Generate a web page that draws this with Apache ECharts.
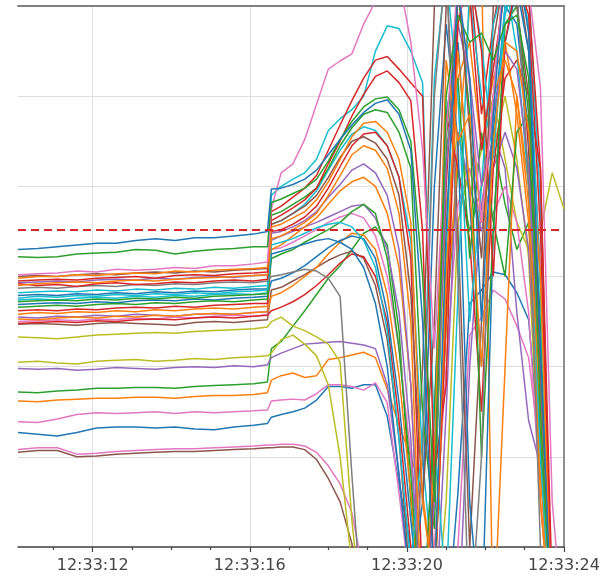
<!DOCTYPE html>
<html><head><meta charset="utf-8">
<script src="https://cdn.jsdelivr.net/npm/echarts@6/dist/echarts.min.js"></script>
<style>html,body{margin:0;padding:0;background:#fff}#c{width:613px;height:578px}</style>
</head><body><div id="c"></div>
<script>
// seconds after 12:33:00
const times = [10.1,10.6,11.1,11.6,12.1,12.6,13.1,13.6,14.1,14.6,15.1,15.6,16.1,16.45,
  16.55,16.8,17.1,17.4,17.7,18.0,18.3,18.6,18.9,19.2,19.5,19.8,20.1,20.4,20.7,21.0,21.3,21.6,21.9,22.2,22.5,22.8,23.1,23.4,23.7,24.0];
const xTickLabels = [12,16,20,24];
const minorTicks = [11,13,14,15,17,18,19,21,22,23];
const threshold = 3.52;

const U1 = [3.30,3.31,3.33,3.35,3.37,3.37,3.40,3.42,3.40,3.43,3.43,3.45,3.47,3.50,
  3.97,3.98,4.02,4.08,4.18,4.35,4.52,4.68,4.82,4.92,4.96,4.80,4.40,2.50,-0.5,3.50,6.20,5.20,2.50,4.80,6.40,6.50,5.70,2.20,-1,-1];
const U2 = [3.22,3.21,3.22,3.25,3.26,3.27,3.30,3.29,3.25,3.28,3.30,3.31,3.33,3.33,
  3.82,3.86,3.92,3.98,4.08,4.28,4.52,4.72,4.88,4.97,4.99,4.85,4.50,3.00,0.50,5.00,5.90,5.60,5.70,5.40,5.80,5.90,5.20,1.50,-1,-1];
const C1 = [3.02,3.03,3.04,3.06,3.05,3.08,3.07,3.08,3.10,3.09,3.12,3.12,3.14,3.16,
  3.75,4.15,4.25,4.52,4.91,5.30,5.39,5.47,5.80,6.05,6.50,6.30,5.60,4.40,2.20,4.60,6.30,5.10,3.60,5.00,6.50,6.50,6.20,5.10,0.50,-1];
const C2 = [2.98,3.00,3.00,3.02,3.01,3.03,3.04,3.03,3.06,3.05,3.07,3.08,3.09,3.10,
  3.55,3.58,3.65,3.72,3.85,4.05,4.30,4.55,4.70,4.72,4.60,4.30,3.60,0.50,-0.5,3.00,5.50,4.00,2.00,4.50,5.60,5.50,4.60,3.00,-1,-1];
const C3 = [2.95,2.96,2.97,2.96,2.98,2.99,3.00,2.98,3.01,3.02,3.01,3.03,3.04,3.05,
  3.72,3.78,3.88,3.98,4.12,4.40,4.68,4.95,5.20,5.40,5.44,5.30,5.15,5.00,0.80,1.80,6.20,6.10,4.40,5.30,6.20,6.50,6.10,4.20,-0.5,-1];
const C4 = [2.90,2.92,2.93,2.94,2.93,2.95,2.96,2.95,2.97,2.98,2.99,3.00,3.01,3.02,
  3.42,3.45,3.52,3.60,3.70,3.90,4.12,4.35,4.45,4.40,4.20,3.70,2.50,-1,1.00,5.40,4.50,4.80,3.60,5.00,5.40,5.00,3.80,1.50,-1,-1];
const C5 = [2.92,2.90,2.91,2.89,2.92,2.93,2.91,2.92,2.94,2.93,2.95,2.96,2.95,2.97,
  3.62,3.68,3.76,3.85,3.98,4.25,4.50,4.78,5.02,5.22,5.28,5.15,4.95,3.50,-0.5,2.60,5.80,6.40,5.50,3.00,5.60,6.30,5.90,3.50,-1,-1];
const C6 = [2.87,2.88,2.87,2.89,2.90,2.89,2.91,2.90,2.92,2.91,2.93,2.94,2.93,2.95,
  3.00,3.02,3.05,3.08,3.06,2.98,2.78,0.80,-1,-1,-1,-1,-1,1.00,5.00,6.50,3.00,-1,1.00,5.00,6.50,6.20,4.00,0.00,-1,-1];
const C7 = [3.00,3.01,3.00,3.02,3.03,3.02,3.04,3.05,3.04,3.06,3.05,3.07,3.08,3.09,
  3.58,3.62,3.70,3.78,3.90,4.10,4.32,4.50,4.55,4.48,4.30,3.90,2.80,0.50,2.50,6.00,6.30,4.60,3.20,5.60,6.40,6.00,5.00,2.00,-1,-1];
const C8 = [2.93,2.94,2.95,2.94,2.96,2.97,2.96,2.98,2.97,2.99,3.00,2.99,3.01,3.02,
  3.48,3.50,3.55,3.62,3.72,3.88,4.02,4.18,4.25,4.15,3.90,3.30,1.80,-1,0.50,4.20,5.80,5.20,4.00,4.80,5.50,5.30,4.20,1.80,-1,-1];
const G1 = [2.82,2.83,2.84,2.83,2.85,2.84,2.86,2.85,2.87,2.86,2.88,2.87,2.89,2.90,
  3.90,4.00,4.08,4.15,4.30,4.62,4.75,4.85,5.00,5.50,5.78,5.75,5.50,5.15,1.20,-0.5,2.80,6.30,5.60,4.30,5.90,6.40,5.80,2.80,-1,-1];
const G2 = [2.76,2.78,2.77,2.79,2.78,2.80,2.79,2.81,2.80,2.82,2.81,2.83,2.84,2.85,
  3.35,3.38,3.42,3.48,3.54,3.58,3.60,3.55,3.40,3.10,2.40,1.20,-0.2,1.20,5.20,6.40,5.00,2.50,4.00,5.80,6.30,5.50,4.00,1.00,-1,-1];
const G3 = [2.72,2.73,2.74,2.73,2.75,2.74,2.76,2.75,2.77,2.76,2.78,2.79,2.80,2.81,
  3.68,3.72,3.80,3.88,3.98,4.20,4.45,4.65,4.80,4.85,4.82,4.60,4.20,1.50,0.20,4.50,6.20,4.80,1.00,3.50,5.80,6.00,4.80,1.20,-1,-1];
const G4 = [2.79,2.80,2.79,2.81,2.80,2.82,2.81,2.83,2.82,2.84,2.83,2.85,2.86,2.86,
  3.25,3.28,3.32,3.36,3.40,3.42,3.38,3.30,3.10,2.70,2.00,0.80,-0.5,0.50,4.00,5.80,4.50,0.50,-1,3.50,5.60,6.20,5.50,2.00,-1,-1];
const G5 = [2.66,2.67,2.68,2.67,2.69,2.70,2.69,2.71,2.70,2.72,2.73,2.72,2.74,2.75,
  3.20,3.25,3.30,3.38,3.45,3.52,3.60,3.72,3.80,3.70,3.20,2.20,0.80,-1,1.50,4.40,5.20,3.20,4.60,3.60,3.00,4.60,4.80,2.50,-1,-1];
const G6 = [2.62,2.63,2.62,2.64,2.63,2.65,2.66,2.65,2.67,2.66,2.68,2.69,2.70,2.70,
  3.50,3.52,3.58,3.66,3.78,3.98,4.22,4.45,4.58,4.60,4.45,4.10,3.20,-0.5,0.50,4.80,4.20,3.40,1.50,4.20,5.20,5.40,5.00,4.20,-1,-1];
const G7 = [2.58,2.60,2.59,2.61,2.60,2.62,2.61,2.63,2.62,2.64,2.65,2.64,2.66,2.67,
  3.30,3.35,3.45,3.55,3.65,3.80,3.95,4.05,4.10,4.00,3.70,3.10,1.80,-1,-0.5,2.50,4.40,6.00,6.50,-1,2.00,5.00,4.00,0.50,-1,-1];
const G8 = [2.74,2.75,2.74,2.76,2.77,2.76,2.78,2.77,2.79,2.78,2.80,2.81,2.80,2.82,
  3.58,3.62,3.70,3.80,3.95,4.18,4.40,4.58,4.66,4.62,4.45,4.10,3.40,1.00,-0.5,3.20,6.40,6.10,5.00,4.40,6.00,6.50,6.20,3.80,-1,-1];
const G9 = [2.69,2.70,2.71,2.70,2.72,2.71,2.73,2.74,2.73,2.75,2.74,2.76,2.77,2.78,
  2.95,2.98,3.04,3.12,3.22,3.32,3.40,3.45,3.42,3.20,2.60,1.60,0.30,-1,1.50,4.80,5.60,3.80,2.00,4.60,6.00,5.80,4.60,1.50,-1,-1];
const G10 = [2.53,2.52,2.54,2.55,2.54,2.56,2.55,2.57,2.56,2.58,2.59,2.58,2.60,2.61,
  2.78,2.82,2.90,3.00,3.10,3.25,3.38,3.48,3.46,3.30,2.80,1.90,0.60,-1,-0.5,2.80,5.20,5.60,4.40,5.20,5.60,4.80,3.60,0.80,-1,-1];
const G11 = [2.48,2.49,2.50,2.49,2.51,2.50,2.52,2.53,2.52,2.54,2.55,2.54,2.56,2.57,
  2.62,2.66,2.72,2.80,2.90,3.02,3.15,3.25,3.22,3.00,2.50,1.40,0.00,-1,0.80,4.00,6.30,6.40,4.80,5.80,6.50,6.10,4.40,1.20,-1,-1];
const P1 = [2.55,2.54,2.56,2.55,2.57,2.56,2.58,2.57,2.56,2.58,2.59,2.58,2.60,2.61,
  3.40,3.45,3.50,3.55,3.60,3.66,3.72,3.78,3.80,3.65,3.30,2.60,1.20,-1,-1,1.50,4.60,4.00,3.50,4.20,4.60,4.20,3.30,1.00,-1,-1];
const P2 = [2.47,2.48,2.47,2.46,2.48,2.49,2.48,2.47,2.46,2.49,2.50,2.49,2.51,2.52,
  2.85,2.88,2.95,3.02,3.10,3.18,3.24,3.28,3.20,2.90,2.30,1.20,-0.5,2.00,6.00,6.50,3.50,0.00,2.50,6.00,6.50,6.40,5.50,3.00,-1,-1];
const P3 = [2.50,2.51,2.52,2.51,2.53,2.52,2.54,2.53,2.55,2.54,2.56,2.57,2.56,2.58,
  3.30,3.32,3.38,3.45,3.52,3.60,3.66,3.70,3.65,3.45,3.00,2.20,1.00,-1,0.00,2.00,3.80,4.20,3.60,3.70,4.00,3.60,2.60,0.50,-1,-1];
const O1 = [2.33,2.32,2.31,2.33,2.35,2.36,2.37,2.38,2.37,2.39,2.40,2.41,2.42,2.44,
  2.50,2.55,2.45,2.40,2.33,2.25,2.05,0.30,-1,-1,-1,-1,-1,-1,0.50,3.80,4.60,3.90,4.40,5.00,4.30,3.60,3.30,3.50,4.15,3.75];
const O2 = [2.05,2.06,2.04,2.03,2.06,2.07,2.08,2.06,2.07,2.09,2.08,2.10,2.11,2.12,
  2.15,2.30,2.35,2.25,2.12,1.80,1.00,-0.2,-1,-1,-1,-1,-1,-1,-1,0.50,3.60,4.20,3.60,4.40,5.00,4.30,3.20,0.50,-1,-1];
const PU = [1.98,1.97,1.98,1.96,1.97,1.99,1.98,1.97,1.99,2.00,1.99,2.01,2.00,2.02,
  2.10,2.15,2.20,2.25,2.26,2.27,2.28,2.26,2.24,2.20,1.80,0.80,-0.5,-1,-1,-1,-1,2.00,3.80,4.60,4.20,2.60,1.40,0.90,-1,-1];
const LG = [1.72,1.71,1.73,1.74,1.76,1.76,1.77,1.77,1.76,1.78,1.79,1.80,1.81,1.83,
  2.20,2.28,2.45,2.62,2.80,2.98,3.12,3.30,3.48,3.55,3.35,2.40,0.50,-1,-0.5,2.50,4.20,3.50,4.00,4.50,3.80,3.30,3.60,1.80,-1,-1];
const LO = [1.62,1.61,1.63,1.64,1.65,1.65,1.66,1.66,1.65,1.67,1.68,1.68,1.69,1.71,
  1.85,1.90,1.93,1.88,1.90,2.08,2.10,2.13,2.16,2.10,1.75,1.35,1.00,0.60,-0.5,-1,-1,-1,-1,-1,-1,-1,-1,-1,-1,-1];
const LP = [1.39,1.38,1.42,1.47,1.49,1.48,1.49,1.50,1.48,1.50,1.49,1.50,1.51,1.52,
  1.62,1.63,1.64,1.63,1.70,1.80,1.80,1.78,1.74,1.82,1.60,0.60,-0.5,-1,-1,-1,0.00,2.35,2.55,2.85,2.75,2.45,2.10,1.00,-1,-1];
const LB = [1.27,1.25,1.23,1.27,1.32,1.33,1.33,1.32,1.33,1.31,1.30,1.33,1.35,1.37,
  1.44,1.47,1.50,1.54,1.63,1.78,1.78,1.76,1.80,1.80,1.45,0.70,0.00,-1,-1,-1,0.60,2.70,2.85,3.05,3.02,2.82,2.52,1.00,-1,-1];
const LBr = [1.05,1.07,1.07,1.00,1.01,1.03,1.04,1.05,1.06,1.06,1.07,1.08,1.09,1.10,
  1.10,1.11,1.11,1.08,0.97,0.76,0.50,0.04,-1,-1,-1,-1,-1,-1,-1,-1,-1,-1,-1,-1,-1,-1,-1,-1,-1,-1];
const LPk = [1.08,1.10,1.10,1.03,1.04,1.06,1.07,1.08,1.09,1.09,1.10,1.11,1.12,1.13,
  1.13,1.14,1.14,1.12,1.05,0.90,0.70,0.38,-0.3,-1,-1,-1,-1,-1,-1,-1,-1,-1,-1,-1,-1,-1,-1,-1,-1,-1];

const seriesDefs = [
  ['LBr','#8c564b',LBr],['LPk','#e377c2',LPk],['LB','#1f77b4',LB],['LP','#e377c2',LP],
  ['LO','#ff7f0e',LO],['LG','#2ca02c',LG],['PU','#9467bd',PU],['O2','#bcbd22',O2],['O1','#bcbd22',O1],
  ['P2','#8c564b',P2],['P3','#e377c2',P3],['P1','#9467bd',P1],
  ['G11','#d62728',G11],['G10','#ff7f0e',G10],['G9','#1f77b4',G9],['G8','#17becf',G8],
  ['G7','#ff7f0e',G7],['G6','#d62728',G6],['G5','#2ca02c',G5],['G4','#1f77b4',G4],['G3','#2ca02c',G3],
  ['G2','#17becf',G2],['G1','#17becf',G1],
  ['C8','#9467bd',C8],['C7','#8c564b',C7],
  ['C6','#7f7f7f',C6],['C5','#d62728',C5],['C4','#ff7f0e',C4],['C3','#d62728',C3],['C2','#ff7f0e',C2],
  ['C1','#e377c2',C1],['U2','#2ca02c',U2],['U1','#1f77b4',U1]
];

const fmt = v => '12:33:' + String(Math.round(v)).padStart(2,'0');
const series = seriesDefs.map(([name,color,vals]) => ({
  name, type:'line', xAxisIndex:0, yAxisIndex:0, symbol:'none', showSymbol:false, clip:true,
  lineStyle:{color, width:1.5}, itemStyle:{color},
  data: times.map((t,i)=>[t, vals[i]])
}));
series[series.length-1].markLine = {
  silent:true, symbol:'none', label:{show:false}, animation:false,
  lineStyle:{color:'#d62728', width:2, type:[8,5]},
  data:[{yAxis: threshold}]
};

const chart = echarts.init(document.getElementById('c'), null, {renderer:'canvas'});
const gridRect = {left:18, right:49, top:6, bottom:31};
chart.setOption({
  animation:false,
  backgroundColor:'#ffffff',
  grid:[Object.assign({}, gridRect), Object.assign({}, gridRect)],
  xAxis:[
    {type:'value', gridIndex:0, min:10.1, max:24, position:'bottom',
     axisLine:{show:true, onZero:false, lineStyle:{color:'#444', width:1.5}},
     axisTick:{show:true, customValues:xTickLabels, length:5, lineStyle:{color:'#444', width:1.2}},
     axisLabel:{customValues:xTickLabels, formatter:fmt, color:'#444', fontSize:16, fontFamily:'DejaVu Sans', margin:11},
     splitLine:{show:true, lineStyle:{color:'#dedede', width:1}}},
    {type:'value', gridIndex:0, min:10.1, max:24, position:'top',
     axisLine:{show:true, onZero:false, lineStyle:{color:'#808080', width:2}},
     axisTick:{show:false}, axisLabel:{show:false}, splitLine:{show:false}},
    {type:'value', gridIndex:1, min:10.1, max:24, position:'bottom',
     axisLine:{show:false}, axisTick:{show:true, customValues:minorTicks, length:3, lineStyle:{color:'#444', width:1.2}},
     axisLabel:{show:false}, splitLine:{show:false}}
  ],
  yAxis:[
    {type:'value', gridIndex:0, min:0, max:6, interval:1, position:'right',
     axisLine:{show:true, onZero:false, lineStyle:{color:'#909090', width:2}},
     axisTick:{show:false}, axisLabel:{show:false},
     splitLine:{show:true, lineStyle:{color:'#dedede', width:1}}},
    {type:'value', gridIndex:1, min:0, max:6, show:false}
  ],
  series
});
</script></body></html>
